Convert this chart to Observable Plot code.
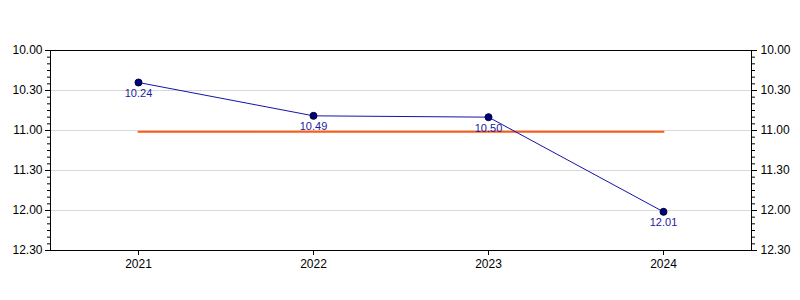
<!DOCTYPE html>
<html>
<head>
<meta charset="utf-8">
<script src="https://cdn.jsdelivr.net/npm/d3@7"></script>
<script src="https://cdn.jsdelivr.net/npm/@observablehq/plot@0.6"></script>
<style>
  html, body { margin: 0; padding: 0; background: #fff; }
  #chart svg { display: block; }
</style>
</head>
<body>
<div id="chart"></div>
<script>
// Data (times shown as minutes.seconds)
const years = ["2021", "2022", "2023", "2024"];
const times = ["10.24", "10.49", "10.50", "12.01"];
const yTickLabels = ["10.00", "10.30", "11.00", "11.30", "12.00", "12.30"];

const toSec = s => { const [m, ss] = s.split("."); return (+m) * 60 + (+ss); };
const fmt = v => `${Math.floor(v / 60)}.${String(Math.round(v % 60)).padStart(2, "0")}`;

const data = years.map((y, i) => ({ year: y, label: times[i], sec: toSec(times[i]) }));
const avg = d3.mean(data, d => d.sec);
const avgLine = [{ year: years[0], sec: avg }, { year: years[years.length - 1], sec: avg }];

const majorTicks = yTickLabels.map(toSec);
const yMin = majorTicks[0], yMax = majorTicks[majorTicks.length - 1];
const minorTicks = d3.range(yMin, yMax + 1, 5).filter(v => !majorTicks.includes(v));

const chart = Plot.plot({
  width: 800,
  height: 300,
  marginLeft: 50,
  marginRight: 49,
  marginTop: 50,
  marginBottom: 50,
  style: { fontFamily: "Liberation Sans, Arial, sans-serif", fontSize: "12px", color: "black", background: "white" },
  x: { type: "point", domain: years, padding: 0.5, label: null },
  y: { domain: [yMax, yMin], range: [250, 50], label: null },
  marks: [
    Plot.gridY(majorTicks, { stroke: "#d9d9d9", strokeOpacity: 1 }),
    Plot.line(avgLine, { x: "year", y: "sec", stroke: "#ff5a14", strokeWidth: 2 }),
    Plot.line(data, { x: "year", y: "sec", stroke: "#1414a8", strokeWidth: 1 }),
    Plot.dot(data, { x: "year", y: "sec", r: 3.5, fill: "#000080", stroke: "#000030", strokeWidth: 1 }),
    Plot.text(data, { x: "year", y: "sec", text: "label", dy: 11, fill: "#1a1aa0", fontSize: 11 }),
    Plot.frame({ stroke: "black", strokeWidth: 1 }),
    Plot.axisY({ anchor: "left", ticks: majorTicks, tickSize: 5, tickPadding: 3, tickFormat: fmt, fill: "black" }),
    Plot.axisY({ anchor: "left", ticks: minorTicks, tickSize: 3, tickFormat: () => "" }),
    Plot.axisY({ anchor: "right", ticks: majorTicks, tickSize: 5, tickPadding: 4, tickFormat: fmt, fill: "black" }),
    Plot.axisY({ anchor: "right", ticks: minorTicks, tickSize: 3, tickFormat: () => "" }),
    Plot.axisX({ anchor: "bottom", tickSize: 5, tickPadding: 4, fill: "black" })
  ]
});
document.getElementById("chart").appendChild(chart);
</script>
</body>
</html>
